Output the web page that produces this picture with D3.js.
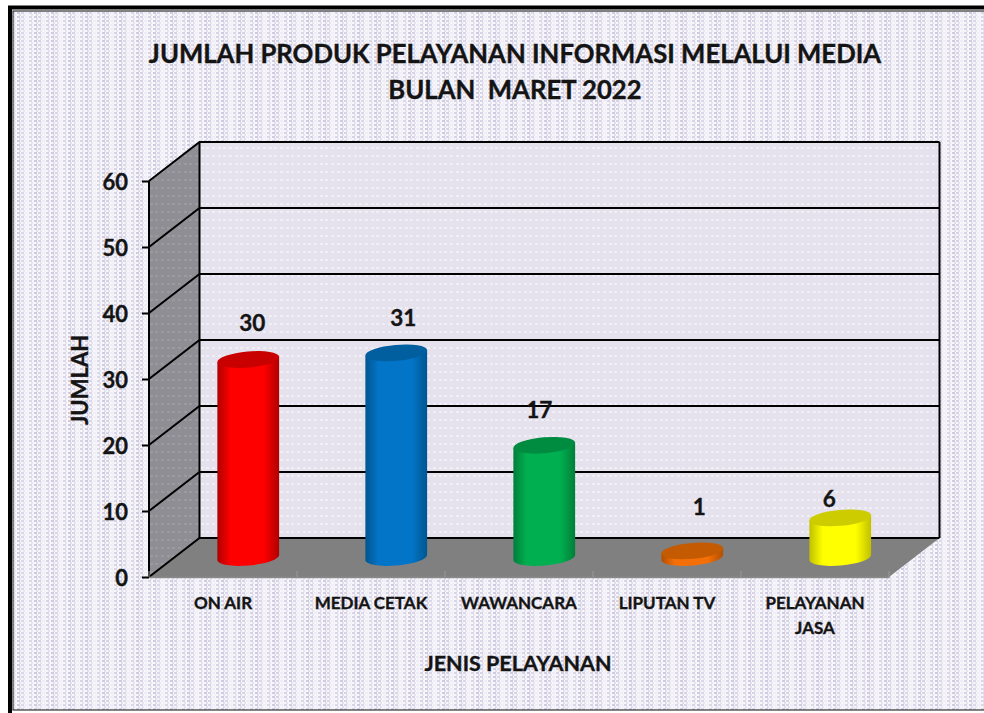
<!DOCTYPE html>
<html><head><meta charset="utf-8">
<style>html,body{margin:0;padding:0;background:#fff}svg{display:block}text{font-family:Lato,"Open Sans",sans-serif;font-weight:700;fill:#141414;stroke:#141414;stroke-width:.35px}</style>
<script src="https://cdn.jsdelivr.net/npm/d3@7/dist/d3.min.js"></script>
</head><body><svg id="c" width="984" height="713"></svg>
<script>
const titleLines = ["JUMLAH PRODUK PELAYANAN INFORMASI MELALUI MEDIA", "BULAN  MARET 2022"];
const categories = ["ON AIR", "MEDIA CETAK", "WAWANCARA", "LIPUTAN TV", "PELAYANAN JASA"];
const values = [30, 31, 17, 1, 6];
const yTicks = [0, 10, 20, 30, 40, 50, 60];
const xTitle = "JENIS PELAYANAN";
const yTitle = "JUMLAH";
const barColors = [
  {edge:"#b00000", mid:"#ff0000", cap:"#c80000"},
  {edge:"#00568f", mid:"#0375c8", cap:"#015f9f"},
  {edge:"#007f3a", mid:"#00b050", cap:"#008c40"},
  {edge:"#b04f00", mid:"#f56f08", cap:"#c45a02"},
  {edge:"#c0c000", mid:"#ffff00", cap:"#cccc00"}
];

const svg = d3.select("#c");
const defs = svg.append("defs");

// layout
const plot = {left:149, right:889, bottom:577, top:181, dx:50.5, dy:-39};
const y = d3.scaleLinear().domain([0,60]).range([plot.bottom, plot.top]);
const x = d3.scaleBand().domain(categories).range([plot.left, plot.right]);

// textures
const bg = defs.append("pattern").attr("id","bgp").attr("patternUnits","userSpaceOnUse")
  .attr("width",34).attr("height",4);
bg.append("rect").attr("width",34).attr("height",4).attr("fill","#f7f6fa");
[[0,"#d0cbe0"],[4,"#d8d4e6"],[8,"#eeecf4"],[12,"#d8d4e6"],[17,"#d0cbe0"],[21,"#dbd7e8"],[25,"#f1eff6"],[29,"#dbd7e8"]].forEach(([px,c])=>{
  bg.append("rect").attr("x",px).attr("y",0).attr("width",3).attr("height",2).attr("fill",c);
  bg.append("rect").attr("x",px+2).attr("y",2).attr("width",2).attr("height",2).attr("fill",c).attr("opacity",.55);
});
const wall = defs.append("pattern").attr("id","wallp").attr("patternUnits","userSpaceOnUse")
  .attr("width",17).attr("height",8);
wall.append("rect").attr("width",17).attr("height",8).attr("fill","#e5e2ee");
[2,8,14].forEach(px=>wall.append("rect").attr("x",px).attr("y",3).attr("width",3).attr("height",2).attr("fill","#f1eff6"));
const side = defs.append("pattern").attr("id","sidep").attr("patternUnits","userSpaceOnUse")
  .attr("width",17).attr("height",8);
side.append("rect").attr("width",17).attr("height",8).attr("fill","#908e95");
[2,8,14].forEach(px=>side.append("rect").attr("x",px).attr("y",3).attr("width",3).attr("height",2).attr("fill","#9c9aa1"));

barColors.forEach((c,i)=>{
  const g = defs.append("linearGradient").attr("id","bar"+i).attr("x1",0).attr("x2",1).attr("y1",0).attr("y2",0);
  [[0,c.edge],[.22,c.mid],[.75,c.mid],[1,c.edge]].forEach(([o,col])=>g.append("stop").attr("offset",o).attr("stop-color",col));
});

// background and frame
svg.append("rect").attr("x",13).attr("y",11).attr("width",984).attr("height",699)
  .attr("fill","url(#bgp)").attr("stroke","#333").attr("stroke-width",1.2);
svg.append("path").attr("d","M10,713V7.5H984").attr("fill","none").attr("stroke","#000").attr("stroke-width",4);

// 3D walls
const line = d3.line();
const back = v => y(v) + plot.dy;
const backL = plot.left + plot.dx, backR = plot.right + plot.dx;
svg.append("path").attr("d", line([[backL,back(0)],[backR,back(0)],[backR,back(60)],[backL,back(60)]])+"Z").attr("fill","url(#wallp)");
svg.append("path").attr("d", line([[plot.left,y(0)],[backL,back(0)],[backL,back(60)],[plot.left,y(60)]])+"Z").attr("fill","url(#sidep)");
svg.append("path").attr("d", line([[plot.left,y(0)],[backL,back(0)],[backR,back(0)],[plot.right,y(0)]])+"Z").attr("fill","#808080");

// gridlines wrapped around the side and back walls
const grid = svg.append("g").attr("fill","none").attr("stroke","#000").attr("stroke-width",2);
yTicks.forEach(v=>{
  grid.append("path").attr("d", line([[plot.left,y(v)],[backL,back(v)],[backR,back(v)]]));
});
grid.append("path").attr("d", line([[backL,back(0)],[backL,back(60)]]));
grid.append("path").attr("d", line([[backR,back(60)],[backR,back(0)]]));

// Left axis
const yAxis = svg.append("g").attr("transform",`translate(${plot.left},0)`)
  .call(d3.axisLeft(y).tickValues(yTicks).tickSize(7).tickPadding(14));
yAxis.selectAll("path,line").attr("stroke","#000").attr("stroke-width",2);
yAxis.selectAll("text").attr("font-size",22).style("font-family","Lato,sans-serif").style("font-weight",700).attr("fill","#141414").attr("dy","0.4em");
yAxis.select("path").attr("d",`M0,${y(0)}V${y(60)}`);

// floor ticks and front floor edge
const xAxis = svg.append("g").attr("transform",`translate(0,${plot.bottom})`)
  .call(d3.axisBottom(x).tickValues([]).tickSize(0));
xAxis.select("path").attr("stroke","#8a8a8a").attr("stroke-width",1.5);
categories.concat([null]).forEach((c,i)=>{
  const px = plot.left + i*x.step();
  svg.append("line").attr("x1",px).attr("x2",px).attr("y1",plot.bottom-6).attr("y2",plot.bottom).attr("stroke","#999");
});

// Cylinders
const rx = 31, ry = 8, tilt = -5;
const sx = rx*Math.cos(tilt*Math.PI/180), sy = -rx*Math.sin(tilt*Math.PI/180);
const cxOf = c => x(c) + x.bandwidth()/2 + plot.dx/2;
const yMid = v => y(v) + plot.dy/2;
const bars = svg.append("g").selectAll("g").data(categories).join("g");
bars.append("path").attr("fill",(c,i)=>`url(#bar${i})`)
  .attr("d",(c,i)=>{
    const cx=cxOf(c), b=yMid(0), t=yMid(values[i]);
    return `M${cx-sx},${t+sy}L${cx-sx},${b+sy}A${rx},${ry} ${tilt} 0 0 ${cx+sx},${b-sy}L${cx+sx},${t-sy}Z`;
  });
bars.append("path").attr("fill",(c,i)=>barColors[i].cap)
  .attr("d",(c,i)=>{
    const cx=cxOf(c), t=yMid(values[i]);
    return `M${cx-sx},${t+sy}A${rx},${ry} ${tilt} 0 1 ${cx+sx},${t-sy}A${rx},${ry} ${tilt} 0 1 ${cx-sx},${t+sy}Z`;
  });

// Value labels (moved by hand in the original)
const nudgeX = [4,7,-5,7,-11], nudgeY = [37,35,35,44,19];
svg.append("g").selectAll("text").data(categories).join("text")
  .attr("x",(c,i)=>cxOf(c)+nudgeX[i]).attr("y",(c,i)=>yMid(values[i])-nudgeY[i])
  .attr("text-anchor","middle").attr("dy","0.36em").attr("font-size",22.5)
  .text((c,i)=>values[i]);

// category labels
svg.append("g").selectAll("text").data(categories).join("text")
  .attr("text-anchor","middle").attr("font-size",17)
  .each(function(c){
    const sel=d3.select(this), px=x(c)+x.bandwidth()/2;
    const parts = c==="PELAYANAN JASA" ? ["PELAYANAN","JASA"] : [c];
    parts.forEach((p,i)=>sel.append("tspan").attr("x",px).attr("y",609+i*25).text(p));
  });

// Titles
svg.append("g").selectAll("text").data(titleLines).join("text")
  .attr("x",515).attr("y",(d,i)=>63+i*36).attr("text-anchor","middle").attr("font-size",25.7)
  .style("white-space","pre").text(d=>d);
svg.append("text").attr("x",518).attr("y",671).attr("text-anchor","middle").attr("font-size",21.5).text(xTitle);
svg.append("text").attr("transform","translate(88,380) rotate(-90)").attr("text-anchor","middle").attr("font-size",22).text(yTitle);
</script></body></html>
